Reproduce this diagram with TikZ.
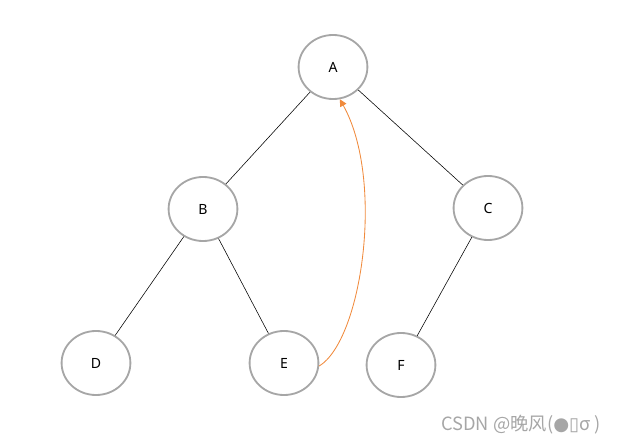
\documentclass[tikz,border=0pt]{standalone}
\usepackage{fontspec}
\setmainfont{Noto Sans}
\newfontfamily\cjk{Noto Sans CJK SC}
\newfontfamily\symb{DejaVu Sans}
\usepackage{xcolor}
\usetikzlibrary{arrows.meta, positioning, calc, shapes.geometric}
\definecolor{ringgray}{HTML}{A6A6A6}
\definecolor{backorange}{HTML}{F08A3C}

\begin{document}
\begin{tikzpicture}[x=0.025cm, y=-0.025cm,
    vertex/.style={ellipse, draw=ringgray, line width=1.3pt, minimum width=1.72cm, minimum height=1.6cm, inner sep=0pt, font=\normalsize},
    edge/.style={black, line width=0.4pt},
    backedge/.style={backorange, line width=0.6pt, -{Triangle[length=5pt, width=5pt]}}]
    \useasboundingbox (0,0) rectangle (620,445);
    \node[vertex] (A) at (333,67) {A};
    \node[vertex] (B) at (203,209) {B};
    \node[vertex] (C) at (488,208) {C};
    \node[vertex] (D) at (96,363) {D};
    \node[vertex] (E) at (284,363) {E};
    \node[vertex] (F) at (401,365) {F};
    \draw[edge] (A) -- (B);
    \draw[edge] (A) -- (C);
    \draw[edge] (B) -- (D);
    \draw[edge] (B) -- (E);
    \draw[edge] (C) -- (F);
    % path back up to the root
    \draw[backedge] (E.-5) .. controls (362,340) and (385,180) .. (A.-78);
    \node[text=ringgray, font=\cjk\fontsize{13}{15}\selectfont] (mark) at (521,425) {CSDN @晚风({\symb ●}{\symb ▯}σ )};
\end{tikzpicture}
\end{document}
